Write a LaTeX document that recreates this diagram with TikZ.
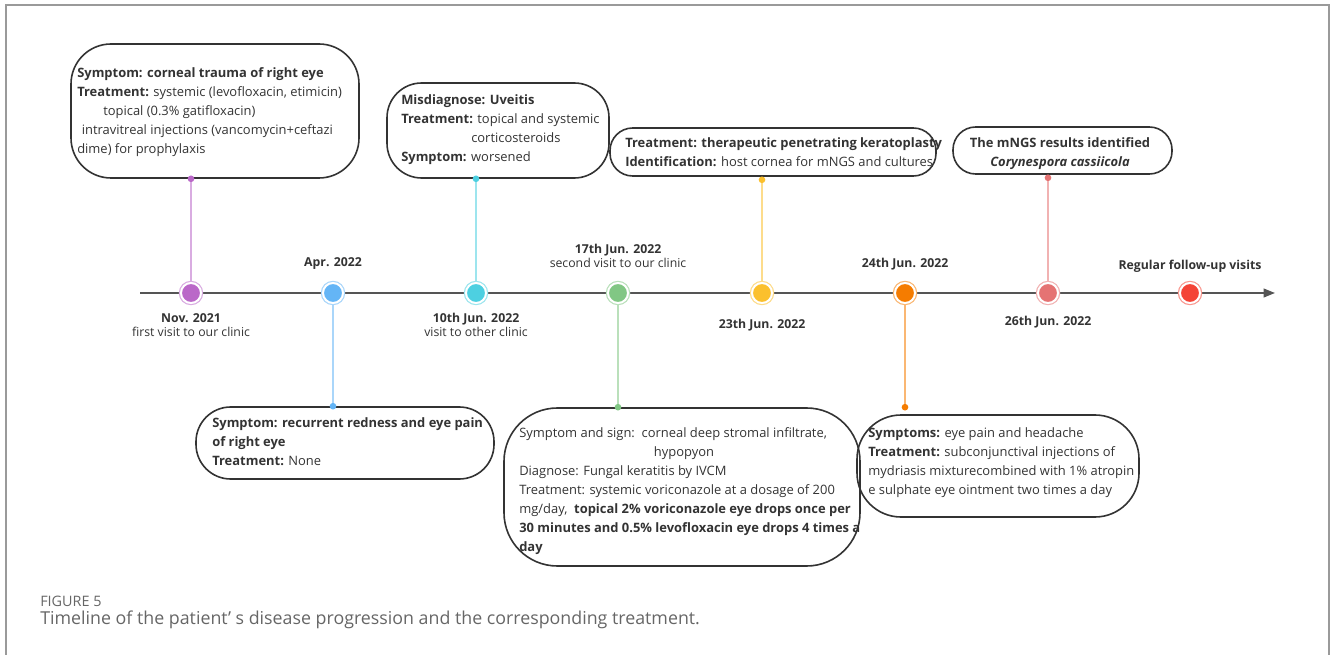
\documentclass[tikz,border=0pt]{standalone}
\usepackage{fontspec}
\setmainfont{Open Sans}
\usetikzlibrary{arrows.meta,calc}
\definecolor{cPurple}{HTML}{BA68C8}
\definecolor{cBlue}{HTML}{64B5F6}
\definecolor{cCyan}{HTML}{4DD0E1}
\definecolor{cGreen}{HTML}{81C784}
\definecolor{cYellow}{HTML}{FBC02D}
\definecolor{cOrange}{HTML}{F57C00}
\definecolor{cPink}{HTML}{E57373}
\definecolor{cRed}{HTML}{F44336}
\definecolor{boxline}{HTML}{333333}
\definecolor{axisc}{HTML}{555555}
\definecolor{txt}{HTML}{333333}
\definecolor{captxt}{HTML}{666666}
\definecolor{framec}{HTML}{9A9A9A}
\newcommand{\bxfont}{\fontsize{9.7}{14.25}\selectfont}
\newcommand{\lblfont}{\fontsize{9.2}{10.9}\selectfont}
\tikzset{
  evbox/.style={draw=boxline, line width=1.2pt, inner sep=0pt, rectangle},
  dotnode/.style={circle, fill=#1, inner sep=0pt, minimum size=15pt, draw=white, line width=1.5pt,
     preaction={draw=#1!55, line width=3.3pt}},
  link/.style={draw=#1!55, line width=0.9pt},
  enddot/.style={circle, fill=#1, minimum size=5pt, inner sep=0pt},
  boxtxt/.style={anchor=base west, inner sep=0pt, text=txt, font=\bxfont},
  datelbl/.style={align=center, inner sep=0pt, text=txt, font=\lblfont},
}
\begin{document}
\begin{tikzpicture}[x=0.75pt,y=-0.75pt]
\useasboundingbox (0,0) rectangle (1330,655);
% frame
\draw[framec, line width=1.1pt] (6,660) -- (6,5) -- (1329,5) -- (1329,660);

% boxes
\node[evbox, rounded corners=30pt, minimum width=216pt, minimum height=100.5pt] (b1) at (215,111) {};
\node[evbox, rounded corners=26pt, minimum width=166.5pt, minimum height=71.25pt] (b2) at (498,130.5) {};
\node[evbox, rounded corners=17pt, minimum width=244.5pt, minimum height=36pt] (b3) at (773,152) {};
\node[evbox, rounded corners=17pt, minimum width=164.25pt, minimum height=35.25pt] (b4) at (1062.5,150.5) {};
\node[evbox, rounded corners=26pt, minimum width=223.5pt, minimum height=54pt] (b5) at (345,443) {};
\node[evbox, rounded corners=40pt, minimum width=267pt, minimum height=118.5pt] (b6) at (682,487) {};
\node[evbox, rounded corners=33pt, minimum width=211.5pt, minimum height=76.5pt] (b7) at (998,466) {};

% timeline
\coordinate (tl0) at (140,293);
\coordinate (tl1) at (1275,293);
\draw[axisc, line width=1.4pt, -{Triangle[length=8.5pt,width=6.5pt]}] (tl0) -- (tl1);

% dots positions
\coordinate (p1) at (191,293);
\coordinate (p2) at (333,293);
\coordinate (p3) at (476,293);
\coordinate (p4) at (618,293);
\coordinate (p5) at (762,293);
\coordinate (p6) at (905,293);
\coordinate (p7) at (1048,293);
\coordinate (p8) at (1190,293);

% end dots on boxes
\node[enddot=cPurple] (e1) at (p1 |- b1.south) {};
\node[enddot=cBlue] (e2) at (p2 |- b5.north) {};
\node[enddot=cCyan] (e3) at (p3 |- b2.south) {};
\node[enddot=cGreen] (e4) at (p4 |- b6.north) {};
\node[enddot=cYellow] (e5) at ($(p5 |- b3.south)+(0,3)$) {};
\node[enddot=cOrange] (e6) at ($(p6 |- b7.north)+(0,-7)$) {};
\node[enddot=cPink] (e7) at ($(p7 |- b4.south)+(0,3)$) {};

% connectors
\draw[link=cPurple] (p1) -- (e1);
\draw[link=cBlue] (p2) -- (e2);
\draw[link=cCyan] (p3) -- (e3);
\draw[link=cGreen] (p4) -- (e4);
\draw[link=cYellow] (p5) -- (e5);
\draw[link=cOrange] (p6) -- (e6);
\draw[link=cPink] (p7) -- (e7);

% timeline dots
\node[dotnode=cPurple] (d1) at (p1) {};
\node[dotnode=cBlue] (d2) at (p2) {};
\node[dotnode=cCyan] (d3) at (p3) {};
\node[dotnode=cGreen] (d4) at (p4) {};
\node[dotnode=cYellow] (d5) at (p5) {};
\node[dotnode=cOrange] (d6) at (p6) {};
\node[dotnode=cPink] (d7) at (p7) {};
\node[dotnode=cRed] (d8) at (p8) {};

% date labels
\node[datelbl] (l1) at (191,325) {\textbf{Nov. 2021}\\first visit to our clinic};
\node[datelbl] (l2) at (333,264) {\textbf{Apr. 2022}};
\node[datelbl] (l3) at (476,325) {\textbf{10th Jun. 2022}\\visit to other clinic};
\node[datelbl] (l4) at (618,256) {\textbf{17th Jun. 2022}\\second visit to our clinic};
\node[datelbl] (l5) at (762,325) {\textbf{23th Jun. 2022}};
\node[datelbl] (l6) at (905,264) {\textbf{24th Jun. 2022}};
\node[datelbl] (l7) at (1048,322) {\textbf{26th Jun. 2022}};
\node[datelbl] (l8) at (1190,266) {\textbf{Regular follow-up visits}};

% box texts
\node[boxtxt] (t1) at (77,78) {\parbox[t]{300pt}{\bxfont
\textbf{Symptom: corneal trauma of right eye}\\
\textbf{Treatment:} systemic (levofloxacin, etimicin)\\
\hspace*{19.5pt}topical (0.3\% gatifloxacin)\\
\hspace*{3.5pt}intravitreal injections (vancomycin+ceftazi\\
dime) for prophylaxis}};

\node[boxtxt] (t2) at (401,105) {\parbox[t]{300pt}{\bxfont
\textbf{Misdiagnose: Uveitis}\\
\textbf{Treatment:} topical and systemic\\
\hspace*{52.5pt}corticosteroids\\
\textbf{Symptom:} worsened}};

\node[boxtxt] (t3) at (625,148) {\parbox[t]{300pt}{\bxfont
\textbf{Treatment: therapeutic penetrating keratoplasty}\\
\textbf{Identification:} host cornea for mNGS and cultures}};

\node[boxtxt, anchor=base] (t4) at (1060,148) {\parbox[t]{160pt}{\bxfont\centering
\textbf{The mNGS results identified}\\
\textbf{\textit{Corynespora cassiicola}}}};

\node[boxtxt] (t5) at (212,427) {\parbox[t]{300pt}{\bxfont
\textbf{Symptom: recurrent redness and eye pain}\\
\textbf{of right eye}\\
\textbf{Treatment:} None}};

\node[boxtxt] (t6) at (519,437) {\parbox[t]{320pt}{\bxfont
Symptom and sign:\ \ corneal deep stromal infiltrate,\\
\hspace*{101pt}hypopyon\\
Diagnose: Fungal keratitis by IVCM\\
Treatment: systemic voriconazole at a dosage of 200\\
mg/day,\ \ \textbf{topical 2\% voriconazole eye drops once per}\\
\textbf{30 minutes and 0.5\% levofloxacin eye drops 4 times a}\\
\textbf{day}}};

\node[boxtxt] (t7) at (868,437) {\parbox[t]{300pt}{\bxfont
\textbf{Symptoms:} eye pain and headache\\
\textbf{Treatment:} subconjunctival injections of\\
mydriasis mixturecombined with 1\% atropin\\
e sulphate eye ointment two times a day}};

% caption
\node[anchor=base west, inner sep=0pt, text=captxt, font=\fontsize{10.8}{12}\selectfont] (fig) at (40,606) {FIGURE 5};
\node[anchor=base west, inner sep=0pt, text=captxt, font=\fontsize{13.35}{15}\selectfont] (cap) at (40,624) {Timeline of the patient’ s disease progression and the corresponding treatment.};
\end{tikzpicture}
\end{document}
